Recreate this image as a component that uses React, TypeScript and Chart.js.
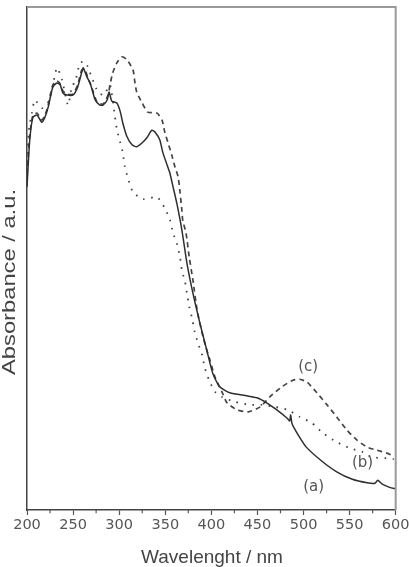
import React, { useEffect, useRef } from "react";
import { Chart, registerables } from "chart.js";

Chart.register(...registerables);

// ---- data (wavelength in nm, absorbance in a.u., 0..1 of the frame) ----
const solidNm = [200, 203, 206.5, 211, 216, 219.5, 223, 228, 232.5, 236, 239, 243.5, 250, 255, 259.5, 261, 265, 268.5, 274, 279, 282.5, 287, 289, 292, 297.5, 301, 304, 308.5, 314, 319, 325, 330, 335.5, 339, 344, 347.5, 352, 355, 358.5, 362.5, 368, 373.5, 380, 387.5, 395, 401.5, 409, 420, 438.5, 449.5, 460, 471, 482, 485, 486, 487.5, 493, 503, 520, 536, 553, 569, 577.5, 580.5, 585, 593.5, 600];
const solidAbs = [0.642, 0.736, 0.781, 0.785, 0.771, 0.781, 0.801, 0.841, 0.849, 0.845, 0.829, 0.825, 0.825, 0.841, 0.871, 0.879, 0.861, 0.849, 0.815, 0.805, 0.805, 0.815, 0.831, 0.813, 0.809, 0.793, 0.769, 0.742, 0.726, 0.722, 0.73, 0.74, 0.755, 0.751, 0.736, 0.71, 0.686, 0.67, 0.642, 0.61, 0.557, 0.491, 0.431, 0.372, 0.318, 0.272, 0.245, 0.233, 0.227, 0.223, 0.213, 0.199, 0.183, 0.177, 0.189, 0.172, 0.153, 0.125, 0.097, 0.076, 0.061, 0.054, 0.053, 0.059, 0.052, 0.045, 0.042];

const dashedNm = [200, 203, 206.5, 211, 216, 219.5, 223, 228, 232.5, 236, 239, 243.5, 250, 255, 259.5, 263, 266, 270.5, 276, 282.5, 288, 290, 293, 297.5, 303, 308.5, 315, 317, 319, 325, 331, 341, 346.5, 349.5, 353, 357, 360.5, 364, 366, 368, 369, 372.5, 376, 380, 384.5, 390, 394, 398.5, 404, 411.5, 417, 428, 440, 453, 463.5, 476.5, 488.5, 496, 504, 514.5, 525.5, 536, 547, 558, 569, 579.5, 590.5, 598];
const dashedAbs = [0.666, 0.746, 0.785, 0.789, 0.775, 0.785, 0.805, 0.845, 0.853, 0.847, 0.833, 0.827, 0.827, 0.845, 0.875, 0.875, 0.859, 0.839, 0.811, 0.807, 0.825, 0.845, 0.869, 0.889, 0.901, 0.895, 0.875, 0.851, 0.831, 0.809, 0.791, 0.789, 0.775, 0.751, 0.73, 0.706, 0.682, 0.662, 0.632, 0.596, 0.575, 0.551, 0.503, 0.457, 0.398, 0.352, 0.324, 0.298, 0.264, 0.235, 0.213, 0.199, 0.195, 0.205, 0.225, 0.245, 0.258, 0.26, 0.254, 0.233, 0.209, 0.185, 0.159, 0.139, 0.125, 0.119, 0.113, 0.107];

const dottedNm = [200, 202, 205.5, 208.5, 216, 223, 227, 232.5, 238, 244.5, 249, 252, 257.5, 263, 266, 270.5, 277, 283.5, 290, 295.5, 297.5, 301, 304, 306, 309.5, 315, 326, 341, 349.5, 355, 358.5, 363, 366, 368, 371.5, 373.5, 376, 379, 382, 385.5, 390, 393, 397.5, 404, 411.5, 425.5, 442, 455, 469, 483, 496, 509, 521, 536, 550.5, 564.5, 574, 590.5, 598];
const dottedAbs = [0.676, 0.755, 0.791, 0.815, 0.799, 0.811, 0.835, 0.879, 0.855, 0.805, 0.845, 0.849, 0.889, 0.891, 0.881, 0.859, 0.831, 0.825, 0.845, 0.781, 0.757, 0.732, 0.71, 0.684, 0.66, 0.632, 0.618, 0.622, 0.6, 0.577, 0.551, 0.527, 0.503, 0.477, 0.453, 0.431, 0.404, 0.382, 0.354, 0.332, 0.308, 0.282, 0.258, 0.235, 0.225, 0.215, 0.209, 0.209, 0.205, 0.199, 0.185, 0.173, 0.153, 0.135, 0.123, 0.115, 0.105, 0.103, 0.101];

const curveLabels = ["(a)", "(b)", "(c)"];
const curveLabelNm = [511, 564, 505];
const curveLabelAbs = [0.046, 0.093, 0.284];

const minorTickValues = [225, 275, 325, 375, 425, 475, 525, 575];
const xTitle = "Wavelenght / nm";
const yTitle = "Absorbance / a.u.";

const toPoints = (xs: number[], ys: number[]) => xs.map((x, i) => ({ x, y: ys[i] }));

const decor = {
  id: "decor",
  beforeDraw(chart: any) {
    const { ctx, width, height } = chart;
    ctx.save();
    ctx.fillStyle = "#ffffff";
    ctx.fillRect(0, 0, width, height);
    ctx.restore();
  },
  afterDraw(chart: any) {
    const { ctx, chartArea, scales } = chart;
    const { left, right, top, bottom } = chartArea;
    const x = scales.x;
    const y = scales.y;
    ctx.save();
    // top / right frame
    ctx.strokeStyle = "#9a9a9a";
    ctx.lineWidth = 2;
    ctx.beginPath();
    ctx.moveTo(left, top);
    ctx.lineTo(right, top);
    ctx.lineTo(right, bottom);
    ctx.stroke();
    // minor ticks
    ctx.strokeStyle = "#555";
    ctx.lineWidth = 1.2;
    minorTickValues.forEach((v) => {
      const px = x.getPixelForValue(v);
      ctx.beginPath();
      ctx.moveTo(px, bottom);
      ctx.lineTo(px, bottom + 3.3);
      ctx.stroke();
    });
    // curve labels
    ctx.fillStyle = "#555";
    ctx.font = "15px 'DejaVu Sans'";
    ctx.textAlign = "center";
    ctx.textBaseline = "middle";
    curveLabels.forEach((t, i) => {
      ctx.fillText(t, x.getPixelForValue(curveLabelNm[i]), y.getPixelForValue(curveLabelAbs[i]));
    });
    // x title
    ctx.fillStyle = "#444";
    ctx.font = "19px 'Liberation Sans'";
    ctx.textBaseline = "alphabetic";
    ctx.fillText(xTitle, 212, 563);
    // y title (rotated)
    ctx.font = "18px 'Liberation Sans'";
    const w = ctx.measureText(yTitle).width;
    ctx.translate(15, 282);
    ctx.rotate(-Math.PI / 2);
    ctx.scale(186 / w, 1);
    ctx.fillText(yTitle, 0, 0);
    ctx.restore();
  },
};

export default function App() {
  const ref = useRef<HTMLCanvasElement | null>(null);
  useEffect(() => {
    document.body.style.margin = "0";
    const canvas = ref.current!;
    const chart = new Chart(canvas, {
      type: "line",
      data: {
        datasets: [
          {
            label: "(a)",
            data: toPoints(solidNm, solidAbs),
            borderColor: "#2e2e2e",
            borderWidth: 1.5,
            pointRadius: 0,
            tension: 0.2,
          },
          {
            label: "(c)",
            data: toPoints(dashedNm, dashedAbs),
            borderColor: "#444",
            borderWidth: 1.7,
            borderDash: [5, 4],
            pointRadius: 0,
            tension: 0.2,
          },
          {
            label: "(b)",
            data: toPoints(dottedNm, dottedAbs),
            borderColor: "#444",
            borderWidth: 1.8,
            borderDash: [1.6, 6.5],
            pointRadius: 0,
            tension: 0.2,
          },
        ],
      },
      options: {
        animation: false,
        responsive: false,
        events: [],
        layout: { padding: { top: 7, right: 13.3, left: 0, bottom: 0 } },
        plugins: { legend: { display: false }, tooltip: { enabled: false } },
        scales: {
          x: {
            type: "linear",
            min: 200,
            max: 600,
            afterFit: (s: any) => {
              s.height = 57;
              s.paddingLeft = 0;
              s.paddingRight = 0;
            },
            ticks: {
              stepSize: 50,
              color: "#555",
              font: { family: "'DejaVu Sans'", size: 14.5 },
              padding: 2,
              maxRotation: 0,
              autoSkip: false,
            },
            grid: {
              drawOnChartArea: false,
              drawTicks: true,
              tickLength: 5,
              tickColor: "#555",
              tickWidth: 1.2,
            },
            border: { color: "#444", width: 1.5 },
          },
          y: {
            type: "linear",
            min: 0,
            max: 1,
            afterFit: (s: any) => {
              s.width = 27;
            },
            ticks: { display: false },
            grid: { display: false, drawTicks: false },
            border: { color: "#444", width: 1.5 },
          },
        },
      },
      plugins: [decor],
    });
    return () => chart.destroy();
  }, []);
  return (
    <canvas
      ref={ref}
      width={409}
      height={567}
      style={{ position: "fixed", left: 0, top: 0, width: 409, height: 567 }}
    />
  );
}
